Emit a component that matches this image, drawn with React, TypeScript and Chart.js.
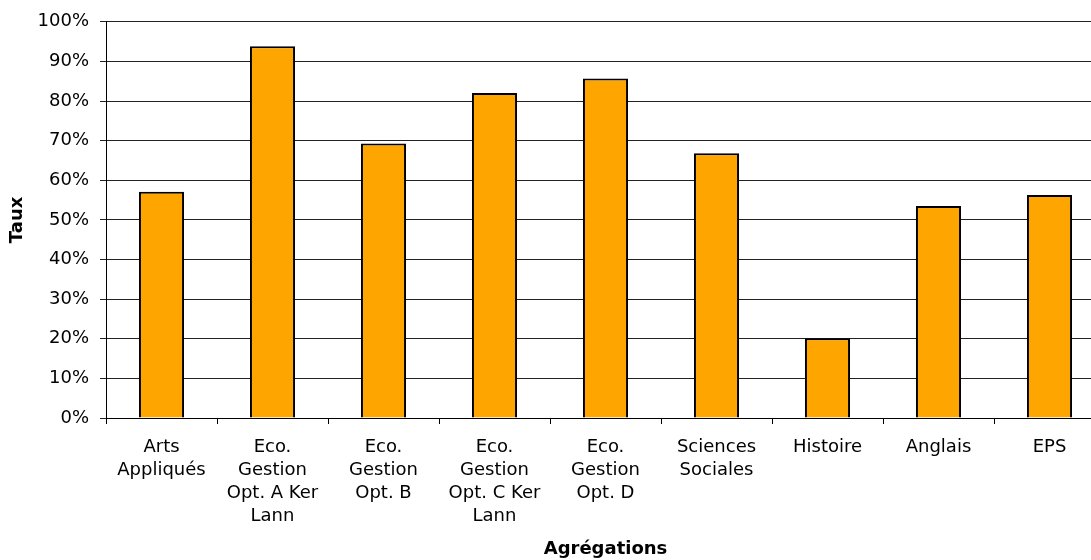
import React, { useEffect, useRef } from "react";
import { Chart, registerables } from "chart.js";

Chart.register(...registerables);

const categories: string[][] = [
  ["Arts", "Appliqués"],
  ["Eco.", "Gestion", "Opt. A Ker", "Lann"],
  ["Eco.", "Gestion", "Opt. B"],
  ["Eco.", "Gestion", "Opt. C Ker", "Lann"],
  ["Eco.", "Gestion", "Opt. D"],
  ["Sciences", "Sociales"],
  ["Histoire"],
  ["Anglais"],
  ["EPS"],
];

const taux: number[] = [57.1, 93.8, 69.3, 82.0, 85.7, 66.8, 20.1, 53.5, 56.3];

const yTitle = "Taux";
const xTitle = "Agrégations";

const FONT = "'DejaVu Sans', Verdana, sans-serif";

export default function App() {
  const canvasRef = useRef<HTMLCanvasElement | null>(null);

  useEffect(() => {
    if (!canvasRef.current) return;
    const chart = new Chart(canvasRef.current, {
      type: "bar",
      data: {
        labels: categories,
        datasets: [
          {
            data: taux,
            backgroundColor: "#FFA500",
            borderColor: "#000000",
            borderWidth: 2,
            barPercentage: 0.406,
            categoryPercentage: 1,
          },
        ],
      },
      options: {
        animation: false,
        responsive: true,
        maintainAspectRatio: false,
        layout: { padding: { top: 20, right: 1, bottom: 0, left: 0 } },
        plugins: {
          legend: { display: false },
          tooltip: { enabled: false },
        },
        scales: {
          x: {
            afterFit: (scale: any) => {
              scale.height = 142;
            },
            grid: {
              display: true,
              drawOnChartArea: false,
              drawTicks: true,
              tickLength: 6,
              color: "#000",
              offset: true,
            },
            border: { display: true, color: "#000", width: 1 },
            ticks: {
              color: "#000",
              padding: 12,
              maxRotation: 0,
              autoSkip: false,
              font: { family: FONT, size: 18, lineHeight: 1.28 },
            },
            title: {
              display: true,
              text: xTitle,
              color: "#000",
              padding: { top: 0, bottom: 0 },
              font: { family: FONT, size: 18, weight: "bold" },
            },
          },
          y: {
            min: 0,
            max: 100,
            afterFit: (scale: any) => {
              scale.width = 106;
            },
            grid: {
              display: true,
              drawOnChartArea: true,
              drawTicks: true,
              tickLength: 6,
              color: "#222",
            },
            border: { display: true, color: "#000", width: 1 },
            ticks: {
              stepSize: 10,
              color: "#000",
              padding: 11,
              font: { family: FONT, size: 18 },
              callback: (v: any) => `${v}%`,
            },
            title: {
              display: true,
              text: yTitle,
              color: "#000",
              padding: { top: 7, bottom: 0 },
              font: { family: FONT, size: 18, weight: "bold" },
            },
          },
        },
      },
    });
    return () => chart.destroy();
  }, []);

  return (
    <div
      style={{
        position: "fixed",
        left: 0,
        top: 0,
        width: 1091,
        height: 560,
        overflow: "hidden",
        background: "#fff",
      }}
    >
      <div style={{ position: "relative", width: 1106, height: 560 }}>
        <canvas ref={canvasRef} />
      </div>
    </div>
  );
}
